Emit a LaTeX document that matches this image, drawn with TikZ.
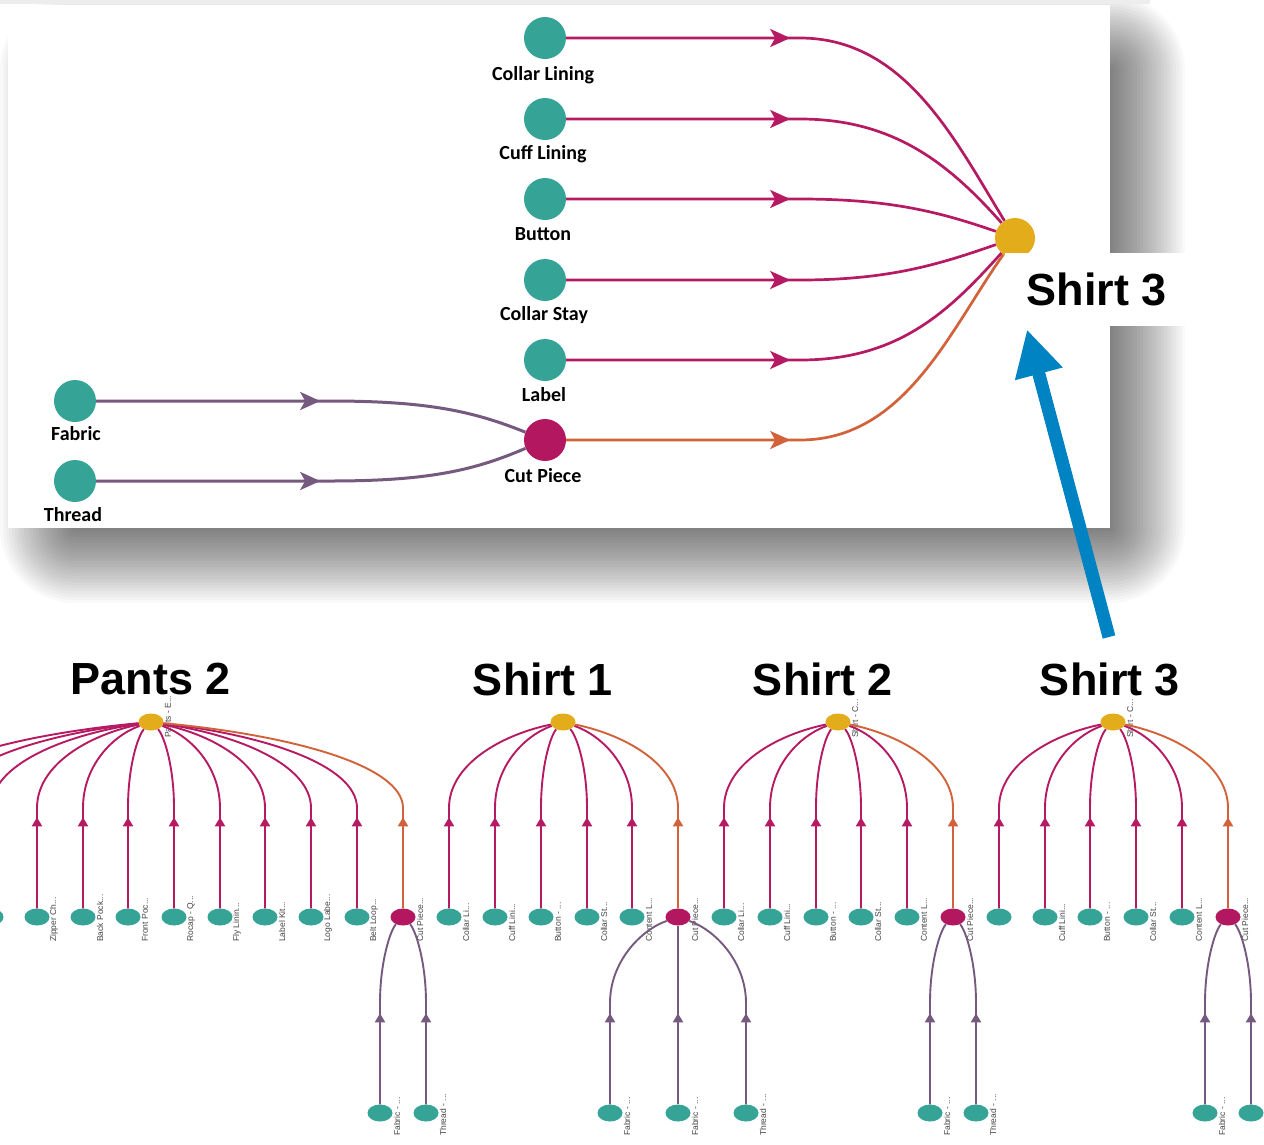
\documentclass[tikz,border=0pt]{standalone}
\usepackage{fontspec}
\setmainfont{Liberation Sans}
\newfontfamily\carl{Carlito}
\usetikzlibrary{arrows.meta,decorations.markings,shapes.geometric}
\newcommand\tdots{...}
\definecolor{tealn}{HTML}{35A497}
\definecolor{magn}{HTML}{B3175F}
\definecolor{mage}{HTML}{B51A62}
\definecolor{orng}{HTML}{D1623A}
\definecolor{purp}{HTML}{76597F}
\definecolor{gold}{HTML}{E3AC1A}
\definecolor{blu}{HTML}{0083C2}
\definecolor{lblgray}{HTML}{444444}
\tikzset{
  tnode/.style={circle, fill=tealn, minimum size=42pt, inner sep=0pt},
  mnode/.style={circle, fill=magn, minimum size=42pt, inner sep=0pt},
  gnode/.style={circle, fill=gold, minimum size=40pt, inner sep=0pt},
  toplbl/.style={font=\carl\bfseries\fontsize{20}{20}\selectfont, inner sep=0pt},
  title/.style={font=\bfseries\fontsize{45}{45}\selectfont, inner sep=0pt},
  midarr/.style={postaction=decorate, decoration={markings, mark=at position #1 with {\arrow{Stealth[length=20pt,width=18pt,inset=5pt]}}}},
  medge/.style={draw=mage, line width=2.7pt},
  oedge/.style={draw=orng, line width=2.7pt},
  pedge/.style={draw=purp, line width=3pt},
  bteal/.style={ellipse, fill=tealn, minimum width=25pt, minimum height=17pt, inner sep=0pt},
  bmag/.style={ellipse, fill=magn, minimum width=25pt, minimum height=17pt, inner sep=0pt},
  bgold/.style={ellipse, fill=gold, minimum width=25pt, minimum height=17pt, inner sep=0pt},
  sm/.style={rotate=90, anchor=west, font=\fontsize{8.5}{9}\selectfont, text=lblgray, inner sep=0pt},
  barr/.style={postaction=decorate, decoration={markings, mark=at position 91pt with {\arrow{Triangle[length=9pt,width=10pt]}}}},
  bm/.style={draw=mage, line width=1.9pt},
  bo/.style={draw=orng, line width=1.9pt},
  bp/.style={draw=purp, line width=1.9pt},
  shadowlayer/.style={fill=black, opacity=0.022},
}
\begin{document}
\begin{tikzpicture}[x=1pt,y=-1pt]
\useasboundingbox (0,0) rectangle (1264,1144);
\clip (0,0) rectangle (1264,1144);
\fill[white] (0,0) rectangle (1264,1144);
% ---------- top panel with soft shadow ----------
\foreach \i in {0,...,24}{
  \pgfmathsetmacro\ee{37.5-3*\i}
  \pgfmathsetmacro\rr{75-3*\i}
  \path[shadowlayer, rounded corners=\rr pt] ({37.5-\ee},{32-\ee}) rectangle ({1147.5+\ee},{565.5+\ee});
}
\fill[black!7] (0,0) rectangle (1150,4);
\fill[white] (8,5) rectangle (1110,528);
\node[tnode] (cl) at (545,38) {};
\node[tnode] (cf) at (545,119) {};
\node[tnode] (bt) at (545,199) {};
\node[tnode] (cs) at (545,280) {};
\node[tnode] (lb) at (545,360) {};
\node[mnode] (cp) at (545,440) {};
\node[tnode] (fb) at (75,401) {};
\node[tnode] (th) at (75,481) {};
\node[gnode] (s3) at (1015,238) {};
\node[toplbl] at (543,75) {Collar Lining};
\node[toplbl] at (543,154) {Cuff Lining};
\node[toplbl] at (543,234) {Button};
\node[toplbl] at (544,315) {Collar Stay};
\node[toplbl] at (544,395) {Label};
\node[toplbl] at (543,476) {Cut Piece};
\node[toplbl] at (76,434) {Fabric};
\node[toplbl] at (73,515) {Thread};
\draw[medge, midarr=224pt] (cl) -- (800,38) .. controls (905,38) and (955,140) .. (s3);
\draw[medge, midarr=224pt] (cf) -- (800,119) .. controls (895,119) and (950,165) .. (s3);
\draw[medge, midarr=224pt] (bt) -- (800,199) .. controls (890,199) and (940,212) .. (s3);
\draw[medge, midarr=224pt] (cs) -- (800,280) .. controls (890,280) and (940,264) .. (s3);
\draw[medge, midarr=224pt] (lb) -- (800,360) .. controls (900,360) and (950,310) .. (s3);
\draw[oedge, midarr=224pt] (cp) -- (800,440) .. controls (905,440) and (950,330) .. (s3);
\draw[pedge, midarr=224pt] (fb) -- (330,401) .. controls (430,401) and (475,412) .. (cp);
\draw[pedge, midarr=224pt] (th) -- (330,481) .. controls (430,481) and (475,470) .. (cp);
\node[fill=white, anchor=north west, minimum width=183pt, minimum height=73pt, inner sep=0pt, font=\bfseries\fontsize{45}{45}\selectfont] (s3lbl) at (1005,253) {Shirt 3};
% ---------- blue arrow ----------
\coordinate (bstart) at (1109,637);
\draw[blu, line width=13pt, -{Triangle[length=46pt,width=46pt]}] (bstart) -- ([xshift=22pt,yshift=-3pt]s3lbl.south west);
% ---------- titles ----------
\node[title] (tp2) at (151,679) {Pants 2};
\node[title] (ts1) at (543,679) {Shirt 1};
\node[title] (ts2) at (823,679) {Shirt 2};
\node[title] (ts3) at (1110,679) {Shirt 3};
% ---------- Pants 2 ----------
\node[bgold] (P) at (151,722) {};
\node[sm] at (168,738) {Pants - E\tdots};
\foreach \x/\n/\l in {-100/pa/,-55/pb/,-9/pc/,37/pd/Zipper Ch\tdots,83/pe/Back Pock\tdots,128/pf/Front Poc\tdots,174/pg/Rocap - Q\tdots,220/ph/Fly Linin\tdots,265/pi/Label Kit\tdots,311/pj/Logo Labe\tdots,357/pk/Belt Loop\tdots}{
  \node[bteal] (\n) at (\x,917) {};
  \node[sm] at ({\x+17},942) {\l};
  \draw[bm, barr] (\n.north) -- (\x,808) .. controls (\x,765) and ({151+0.55*(\x-151)},735) .. (P);
}
\node[bmag] (PC) at (403,917) {};
\node[sm] at (420,942) {Cut Piece\tdots};
\draw[bo, barr] (PC.north) -- (403,808) .. controls (403,765) and ({151+0.55*(403-151)},735) .. (P);
\foreach \x/\n/\l in {380/pfa/Fabric - \tdots,426/pth/Thread - \tdots}{
  \node[bteal] (\n) at (\x,1113) {};
  \node[sm] at ({\x+17},1136) {\l};
  \draw[bp, barr] (\n.north) -- (\x,1003) .. controls (\x,962) and ({403+0.55*(\x-403)},930) .. (PC);
}
% ---------- Shirt 1 ----------
\node[bgold] (S1) at (563,722) {};
\foreach \x/\n/\l in {449/sa/Collar Li\tdots,495/sb/Cuff Lini\tdots,541/sc/Button - \tdots,587/sd/Collar St\tdots,632/se/Content L\tdots}{
  \node[bteal] (\n) at (\x,917) {};
  \node[sm] at ({\x+17},942) {\l};
  \draw[bm, barr] (\n.north) -- (\x,808) .. controls (\x,765) and ({563+0.55*(\x-563)},735) .. (S1);
}
\node[bmag] (S1C) at (678,917) {};
\node[sm] at (695,942) {Cut Piece\tdots};
\draw[bo, barr] (S1C.north) -- (678,808) .. controls (678,765) and ({563+0.55*(678-563)},735) .. (S1);
\foreach \x/\n/\l in {610/sfa/Fabric - \tdots,678/sfb/Fabric - \tdots,746/sth/Thread - \tdots}{
  \node[bteal] (\n) at (\x,1113) {};
  \node[sm] at ({\x+17},1136) {\l};
}
\draw[bp, barr] (sfa.north) -- (610,1003) .. controls (610,962) and ({678+0.55*(610-678)},930) .. (S1C);
\draw[bp, barr] (sfb.north) -- (S1C);
\draw[bp, barr] (sth.north) -- (746,1003) .. controls (746,962) and ({678+0.55*(746-678)},930) .. (S1C);
% ---------- Shirt 2 ----------
\node[bgold] (S2) at (838,722) {};
\node[sm] at (855,738) {Shirt - C\tdots};
\foreach \x/\n/\l in {724/ta/Collar Li\tdots,770/tb/Cuff Lini\tdots,816/tc/Button - \tdots,861/td/Collar St\tdots,907/te/Content L\tdots}{
  \node[bteal] (\n) at (\x,917) {};
  \node[sm] at ({\x+17},942) {\l};
  \draw[bm, barr] (\n.north) -- (\x,808) .. controls (\x,765) and ({838+0.55*(\x-838)},735) .. (S2);
}
\node[bmag] (S2C) at (953,917) {};
\node[sm] at (970,942) {Cut Piece\tdots};
\draw[bo, barr] (S2C.north) -- (953,808) .. controls (953,765) and ({838+0.55*(953-838)},735) .. (S2);
\foreach \x/\n/\l in {930/tfa/Fabric - \tdots,976/tth/Thread - \tdots}{
  \node[bteal] (\n) at (\x,1113) {};
  \node[sm] at ({\x+17},1136) {\l};
  \draw[bp, barr] (\n.north) -- (\x,1003) .. controls (\x,962) and ({953+0.55*(\x-953)},930) .. (S2C);
}
% ---------- Shirt 3 ----------
\node[bgold] (S3) at (1113,722) {};
\node[sm] at (1130,738) {Shirt - C\tdots};
\foreach \x/\n/\l in {999/ua/,1045/ub/Cuff Lini\tdots,1090/uc/Button - \tdots,1136/ud/Collar St\tdots,1182/ue/Content L\tdots}{
  \node[bteal] (\n) at (\x,917) {};
  \node[sm] at ({\x+17},942) {\l};
  \draw[bm, barr] (\n.north) -- (\x,808) .. controls (\x,765) and ({1113+0.55*(\x-1113)},735) .. (S3);
}
\node[bmag] (S3C) at (1228,917) {};
\node[sm] at (1245,942) {Cut Piece\tdots};
\draw[bo, barr] (S3C.north) -- (1228,808) .. controls (1228,765) and ({1113+0.55*(1228-1113)},735) .. (S3);
\foreach \x/\n/\l in {1205/ufa/Fabric - \tdots,1251/uth/}{
  \node[bteal] (\n) at (\x,1113) {};
  \node[sm] at ({\x+17},1136) {\l};
  \draw[bp, barr] (\n.north) -- (\x,1003) .. controls (\x,962) and ({1228+0.55*(\x-1228)},930) .. (S3C);
}
\end{tikzpicture}
\end{document}
